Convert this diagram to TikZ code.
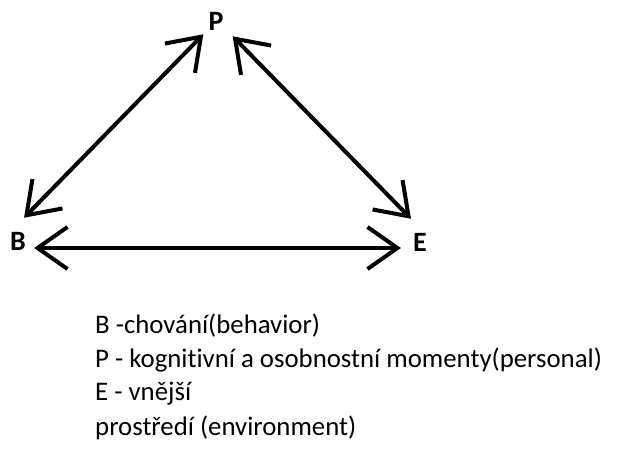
\documentclass[tikz,border=0pt]{standalone}
\usepackage{fontspec}
\setmainfont{Carlito}[RawFeature=-liga]
\usetikzlibrary{arrows.meta}

\tikzset{
  lbl/.style={font=\fontsize{28}{28}\selectfont\bfseries, inner sep=2pt},
  rel/.style={line width=4pt, {Straight Barb[length=30pt,width=42pt]}-{Straight Barb[length=30pt,width=42pt]}},
  legend/.style={anchor=base west, inner sep=0pt, font=\fontsize{26.8}{26.8}\selectfont}
}

\begin{document}
\begin{tikzpicture}[x=1pt, y=-1pt]
\useasboundingbox (0,0) rectangle (619,448);
\node (P) [lbl] at (216,21) {P};
\node (B) [lbl] at (18,241) {B};
\node (E) [lbl] at (420,242) {E};
\draw[rel] ([shift={(-4pt,12pt)}]B.north east) -- ([shift={(-3pt,-2pt)}]P.south west);
\draw[rel] ([shift={(7pt,-4pt)}]P.south east) -- ([shift={(0pt,12pt)}]E.north west);
\draw[rel] ([shift={(6pt,-7pt)}]B.east) -- ([shift={(-10pt,-6pt)}]E.west);
% legend
\node (lB) [legend] at (95,333) {B -chování(behavior)};
\node (lP) [legend] at (95,367) {P - kognitivní a osobnostní momenty(personal)};
\node (lE) [legend] at (95,400) {E - vnější};
\node (lE2) [legend] at (95,435) {prostředí (environment)};
\end{tikzpicture}
\end{document}
